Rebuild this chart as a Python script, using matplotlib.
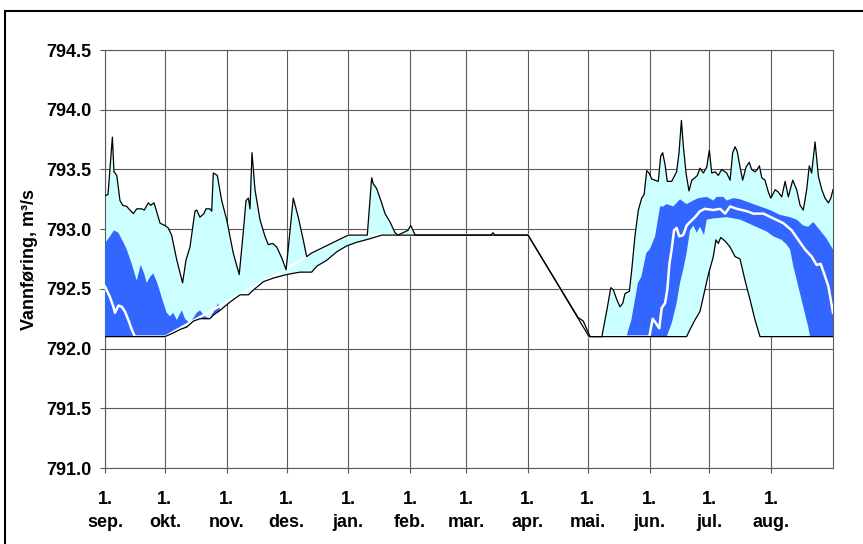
import matplotlib
matplotlib.use('Agg')
import matplotlib.pyplot as plt
from matplotlib.patches import Rectangle
import numpy as np

# Day 0 = 1. sep; values in m3/s
month_days = [0, 30, 61, 91, 122, 153, 181, 212, 242, 273, 303, 334]
month_names = ['sep.', 'okt.', 'nov.', 'des.', 'jan.', 'feb.', 'mar.', 'apr.',
               'mai.', 'jun.', 'jul.', 'aug.']

# Highest observed
max_day = [0, 1.5, 3.7, 4.5, 5.9, 7.5, 8.9, 10.9, 12.5, 14.2, 15.9, 18.4, 19.7, 21.7,
           22.9, 24.6, 26.2, 27.6, 30.1, 31.7, 33.4, 36.0, 38.9, 40.6, 42.6, 45.1,
           46.0, 47.6, 49.6, 50.6, 52.6, 53.5, 54.3, 56.3, 58.5, 61.0, 64.3, 67.3,
           69.3, 70.7, 71.9, 72.7, 73.7, 75.2, 77.7, 80.2, 81.9, 84.1, 86.1, 88.6,
           90.8, 92.8, 94.4, 96.9, 99.4, 101.1, 103.6, 122.0, 131.5, 133.7, 134.5,
           136.2, 138.7, 140.4, 142.9, 145.4, 146.9, 151.9, 153.3, 154.4, 155.5,
           193.5, 194.5, 195.5, 212.1, 237.2, 239.8, 243.2, 249.1, 251.6, 253.6,
           254.9, 256.6, 258.2, 259.6, 260.7, 262.9, 264.1, 265.7, 267.4, 269.1,
           270.3, 271.6, 272.8, 274.1, 275.8, 277.4, 278.6, 279.6, 280.8, 281.9,
           284.1, 286.6, 287.8, 289.0, 290.0, 291.3, 292.8, 294.2, 295.8, 297.0,
           298.3, 300.0, 301.7, 303.0, 304.2, 305.9, 307.5, 309.2, 311.7, 313.4,
           314.7, 315.9, 317.0, 318.4, 319.7, 321.4, 323.0, 324.2, 325.9, 327.1,
           328.1, 329.3, 330.9, 332.6, 333.8, 336.0, 337.6, 339.3, 341.0, 342.6,
           344.8, 346.8, 348.5, 350.1, 351.8, 353.1, 354.3, 356.0, 357.7, 359.4,
           361.0, 362.7, 363.9, 365.0]
max_val = [793.28, 793.29, 793.77, 793.48, 793.45, 793.24, 793.20, 793.19, 793.16,
           793.13, 793.17, 793.17, 793.16, 793.22, 793.20, 793.22, 793.13, 793.05,
           793.03, 793.01, 792.95, 792.74, 792.55, 792.74, 792.85, 793.15, 793.16,
           793.10, 793.13, 793.17, 793.17, 793.15, 793.47, 793.45, 793.24, 793.08,
           792.80, 792.62, 792.97, 793.24, 793.26, 793.17, 793.64, 793.33, 793.08,
           792.94, 792.87, 792.88, 792.85, 792.76, 792.66, 792.99, 793.26, 793.10,
           792.91, 792.77, 792.80, 792.95, 792.95, 793.43, 793.38, 793.34, 793.22,
           793.13, 793.06, 792.97, 792.95, 792.99, 793.03, 792.99, 792.95, 792.95,
           792.97, 792.95, 792.95, 792.26, 792.23, 792.10, 792.10, 792.32, 792.51,
           792.49, 792.41, 792.35, 792.38, 792.46, 792.48, 792.66, 792.94, 793.16,
           793.26, 793.29, 793.49, 793.47, 793.42, 793.41, 793.40, 793.61, 793.64,
           793.54, 793.40, 793.40, 793.48, 793.64, 793.91, 793.69, 793.47, 793.32,
           793.41, 793.43, 793.45, 793.51, 793.47, 793.52, 793.66, 793.47, 793.48,
           793.45, 793.50, 793.47, 793.41, 793.64, 793.69, 793.65, 793.52, 793.41,
           793.52, 793.56, 793.50, 793.48, 793.50, 793.53, 793.43, 793.41, 793.31,
           793.26, 793.33, 793.31, 793.27, 793.40, 793.27, 793.41, 793.33, 793.20,
           793.16, 793.33, 793.53, 793.47, 793.73, 793.44, 793.33, 793.26, 793.22,
           793.26, 793.33]

# Lowest observed
min_day = [0, 30.0, 34.2, 37.6, 41.0, 44.3, 47.6, 52.6, 54.3, 57.7, 62.7, 67.7, 71.9,
           74.4, 79.4, 84.4, 91.1, 97.8, 103.6, 106.2, 111.2, 116.2, 121.2, 126.2,
           132.9, 138.7, 212.1, 242.7, 291.6, 293.3, 295.8, 298.3, 302.5, 305.0,
           306.3, 307.5, 308.7, 310.9, 313.4, 315.9, 318.4, 320.9, 323.4, 325.9,
           328.4, 365.0]
min_val = [792.10, 792.10, 792.13, 792.16, 792.18, 792.23, 792.25, 792.25, 792.28,
           792.32, 792.39, 792.45, 792.45, 792.49, 792.56, 792.59, 792.62, 792.64,
           792.64, 792.69, 792.74, 792.81, 792.86, 792.89, 792.92, 792.95, 792.95,
           792.10, 792.10, 792.16, 792.24, 792.31, 792.62, 792.77, 792.91, 792.88,
           792.93, 792.90, 792.85, 792.77, 792.75, 792.57, 792.41, 792.24, 792.10,
           792.10]

# Median
med_day = [0, 2.5, 4.2, 5.0, 6.7, 8.4, 10.0, 11.7, 13.4, 15.0, 30.1, 91.1, 101.1,
           103.6, 122.0, 212.1, 242.7, 272.9, 274.6, 276.3, 277.9, 279.1, 280.8,
           281.9, 283.0, 284.1, 285.3, 286.6, 287.9, 289.9, 291.6, 293.3, 295.8,
           298.3, 300.8, 305.0, 308.4, 310.9, 313.4, 316.8, 321.8, 325.1, 330.1,
           335.1, 340.1, 344.3, 347.6, 351.0, 354.3, 356.8, 358.8, 360.5, 362.7,
           365.0]
med_val = [792.52, 792.43, 792.35, 792.30, 792.36, 792.35, 792.31, 792.24, 792.16,
           792.10, 792.10, 792.67, 792.77, 792.80, 792.95, 792.95, 792.10, 792.10,
           792.25, 792.21, 792.17, 792.34, 792.38, 792.49, 792.71, 792.83, 792.99,
           793.01, 792.94, 792.95, 793.03, 793.06, 793.10, 793.15, 793.17, 793.16,
           793.17, 793.13, 793.19, 793.17, 793.15, 793.13, 793.13, 793.09, 793.05,
           792.99, 792.91, 792.83, 792.77, 792.70, 792.71, 792.63, 792.52, 792.30]

# Central band, autumn part
band_aut_hi_day = [0, 2.5, 4.5, 6.7, 9.2, 10.9, 13.4, 15.9, 17.9, 19.6, 20.9, 22.6,
                   24.2, 26.2, 28.4, 30.9, 32.6, 34.2, 36.0, 38.5, 40.1, 42.6, 46.0,
                   47.6, 50.1, 52.6, 56.7, 57.7]
band_aut_hi_val = [792.88, 792.94, 792.99, 792.97, 792.89, 792.83, 792.71, 792.57,
                   792.70, 792.63, 792.55, 792.60, 792.63, 792.55, 792.43, 792.30,
                   792.27, 792.30, 792.24, 792.32, 792.25, 792.21, 792.30, 792.32,
                   792.27, 792.25, 792.38, 792.32]
band_aut_lo_day = [0, 30.0, 34.2, 37.6, 41.0, 44.3, 47.6, 52.6, 54.3, 57.7]
band_aut_lo_val = [792.10, 792.10, 792.13, 792.16, 792.18, 792.23, 792.25, 792.25,
                   792.28, 792.32]

# Central band, summer part
band_sum_hi_day = [261.4, 263.9, 267.2, 268.9, 271.4, 273.1, 275.8, 277.4, 278.3,
                   279.9, 281.6, 284.9, 288.3, 291.6, 295.0, 297.5, 301.7, 305.0,
                   306.7, 310.0, 311.7, 315.1, 318.4, 323.4, 328.4, 333.4, 338.4,
                   343.5, 346.8, 350.1, 352.6, 355.1, 358.5, 361.8, 365.0]
band_sum_hi_val = [792.10, 792.24, 792.55, 792.60, 792.80, 792.83, 792.94, 793.10,
                   793.19, 793.19, 793.21, 793.19, 793.25, 793.21, 793.24, 793.26,
                   793.27, 793.24, 793.27, 793.27, 793.24, 793.26, 793.25, 793.22,
                   793.19, 793.16, 793.12, 793.10, 793.08, 793.03, 793.02, 793.06,
                   792.99, 792.92, 792.83]
band_sum_lo_day = [261.4, 281.6, 284.1, 286.6, 288.3, 289.9, 291.6, 293.3, 295.0,
                   296.7, 298.3, 300.3, 301.7, 305.0, 311.7, 318.4, 325.1, 331.8,
                   335.1, 339.3, 341.8, 343.5, 345.1, 347.6, 350.1, 352.6, 353.5,
                   365.0]
band_sum_lo_val = [792.10, 792.10, 792.21, 792.38, 792.55, 792.66, 792.80, 792.99,
                   793.03, 792.97, 793.02, 792.95, 793.08, 793.09, 793.10, 793.08,
                   793.03, 792.98, 792.94, 792.91, 792.87, 792.83, 792.69, 792.52,
                   792.35, 792.18, 792.10, 792.10]

CYAN = '#CCFFFF'
BLUE = '#3366FF'
GRID = '#5a5a5a'

plt.rcParams['font.family'] = ['Liberation Sans', 'DejaVu Sans']

fig = plt.figure(figsize=(8.63, 5.44), dpi=100)
ax = fig.add_axes([105 / 863, 1 - 468 / 544, 728 / 863, 418 / 544])


def band(ax, hi_d, hi_v, lo_d, lo_v, color, z):
    xs = np.concatenate([hi_d, lo_d[::-1]])
    ys = np.concatenate([hi_v, lo_v[::-1]])
    ax.fill(xs, ys, color=color, lw=0, zorder=z)


band(ax, max_day, max_val, min_day, min_val, CYAN, 2)
band(ax, band_aut_hi_day, band_aut_hi_val, band_aut_lo_day, band_aut_lo_val, BLUE, 3)
band(ax, band_sum_hi_day, band_sum_hi_val, band_sum_lo_day, band_sum_lo_val, BLUE, 3)

ax.plot(med_day, med_val, color='white', lw=1.8, zorder=4)
ax.plot(max_day, max_val, color='black', lw=0.9, zorder=5)
ax.plot(min_day, min_val, color='black', lw=0.9, zorder=5)

ax.set_xlim(0, 365)
ax.set_ylim(791.0, 794.5)
yt = np.arange(791.0, 794.51, 0.5)
ax.set_yticks(yt)
ax.set_yticklabels([f'{v:.1f}' for v in yt], fontsize=13, fontweight='bold')
ax.set_xticks(month_days)
ax.set_xticklabels([f'1.\n{m}' for m in month_names], fontsize=13,
                   fontweight='bold', linespacing=1.45)
ax.tick_params(axis='both', color=GRID, width=0.8, length=3.8, direction='out')
ax.tick_params(axis='x', pad=13)
ax.tick_params(axis='y', pad=6)

ax.grid(True, color=GRID, lw=0.8, zorder=1)
ax.set_axisbelow(True)
for s in ax.spines.values():
    s.set_color(GRID)
    s.set_linewidth(0.8)

ax.set_ylabel('Vannføring, m³/s', fontsize=13, fontweight='bold', labelpad=6)

# outer frame around the chart area
fig.patches.append(Rectangle((5 / 863, -0.1), 1.2, 1.1 - 11 / 544,
                             transform=fig.transFigure, fill=False,
                             ec='black', lw=1.5))

fig.savefig('out.png', dpi=100, facecolor='white')
